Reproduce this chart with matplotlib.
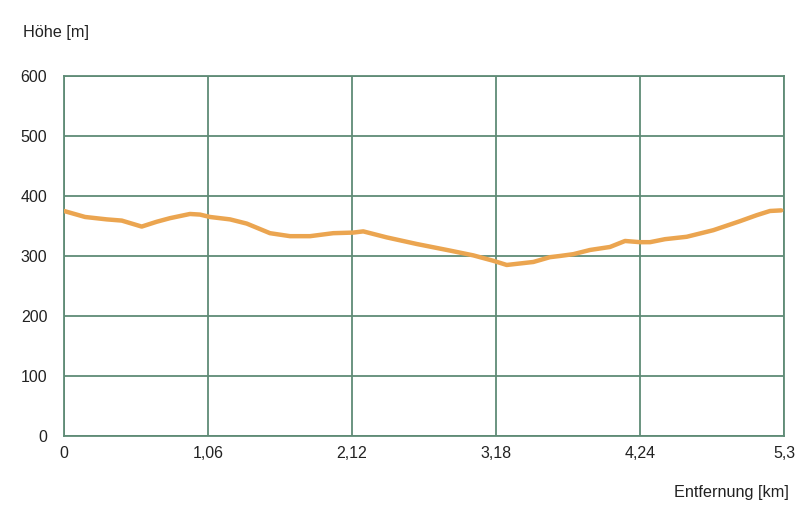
import matplotlib
matplotlib.use("Agg")
import matplotlib.pyplot as plt

distance_km = [0, 0.155, 0.314, 0.425, 0.572, 0.682, 0.780, 0.927, 1.001, 1.075,
               1.222, 1.345, 1.516, 1.664, 1.811, 1.982, 2.130, 2.203, 2.375, 2.596,
               2.841, 3.013, 3.160, 3.259, 3.455, 3.577, 3.651, 3.749, 3.872, 4.019,
               4.130, 4.240, 4.314, 4.424, 4.584, 4.780, 4.976, 5.099, 5.197, 5.280]
elevation_m = [375, 365, 361, 359, 349, 357, 363, 370, 369, 365,
               361, 354, 338, 333, 333, 338, 339, 341, 331, 320,
               309, 301, 292, 285, 290, 298, 300, 303, 310, 315,
               325, 323, 323, 328, 332, 343, 358, 368, 375, 376]
x_ticks = [0, 1.06, 2.12, 3.18, 4.24, 5.3]
x_tick_labels = ["0", "1,06", "2,12", "3,18", "4,24", "5,3"]
y_ticks = [0, 100, 200, 300, 400, 500, 600]

plt.rcParams['font.family'] = ['Liberation Sans', 'DejaVu Sans']
fig = plt.figure(figsize=(8, 5.24), dpi=100)
ax = fig.add_axes([0.08, 0.168, 0.90, 0.687])
grid_c = '#5f8b76'
ax.plot(distance_km, elevation_m, color='#eba550', lw=3.2, solid_capstyle='round',
        solid_joinstyle='round', zorder=3)
ax.set_xlim(0, 5.3)
ax.set_ylim(0, 600)
ax.set_xticks(x_ticks)
ax.set_xticklabels(x_tick_labels)
ax.set_yticks(y_ticks)
ax.grid(True, color=grid_c, lw=1.3)
for s in ax.spines.values():
    s.set_color(grid_c)
    s.set_linewidth(1.3)
ax.tick_params(length=0, labelsize=11.5, colors='#222222')
ax.tick_params(axis='y', pad=12)
ax.tick_params(axis='x', pad=7)
fig.text(23/800, 1 - 32/524, "Höhe [m]", fontsize=11.7, color='#222222', va='center', ha='left')
fig.text(789/800, 1 - 492/524, "Entfernung [km]", fontsize=11.7, color='#222222', va='center', ha='right')
fig.savefig("out.png", dpi=100)
